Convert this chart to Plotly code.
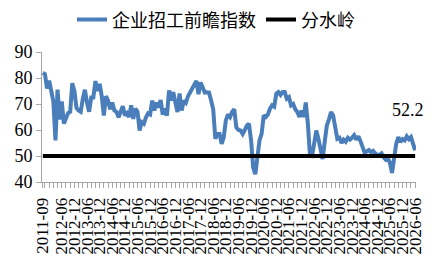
import pandas as pd
import plotly.graph_objects as go

# Monthly categories 2011-09 .. 2026-06
months = [d.strftime("%Y-%m") for d in pd.date_range("2011-09-01", "2026-06-01", freq="MS")]

# 企业招工前瞻指数
index_values = [
    82, 81.5, 76, 79, 75, 71, 56, 75.5, 64, 71,
    62.5, 65, 66.5, 67, 78, 75, 68.5, 67.5, 67, 72,
    75.5, 70.5, 67, 72.5, 72.5, 78.8, 75, 77.8, 73, 65.6,
    73, 71.3, 68, 70.6, 67.5, 67, 64.9, 67, 69.2, 65.6,
    66.5, 65, 69.5, 64.3, 68.2, 67, 59.8, 63, 62.4, 64.8,
    66.4, 66, 71.3, 67.5, 70.6, 68.7, 71.5, 65.9, 68.2, 65.5,
    75.2, 71.3, 74.6, 70.6, 66.9, 74, 67.5, 71.3, 70.5, 73,
    74.4, 76.3, 77, 78.9, 73.8, 78.3, 76.3, 74.4, 74.5, 74.4,
    71.3, 68, 56.6, 58.5, 58.5, 54.7, 57.2, 63.7, 66, 65,
    67, 68, 61, 60, 59.8, 58.5, 60, 61.7, 62.4, 56,
    45.5, 43, 49.5, 56, 58.5, 65.6, 65, 66, 68.2, 69.5,
    69, 74, 74.6, 73.5, 74.6, 74.6, 72, 72.6, 69.5, 70,
    68, 66.9, 65, 67.5, 65, 70.6, 62.4, 50.2, 50, 55.4,
    59.8, 56.6, 53.3, 48.8, 55.4, 61.7, 64, 66.9, 65.6, 61,
    56.6, 57, 55, 56.3, 55.5, 57, 56.3, 57, 58, 56.3,
    57.6, 55.7, 53.7, 51.2, 51.8, 52.3, 51.5, 52, 51, 50.4,
    50.5, 51, 49.5, 48.6, 49.2, 47.4, 43.5, 50.2, 54.7, 57.3,
    55.4, 56.5, 56, 57.6, 56.5, 57.3, 55, 52.2,
]
watershed_value = 50

tick_labels = ["2011-09"] + [f"{y}-{m}" for y in range(2012, 2027) for m in ("06", "12")]
tick_labels = [t for t in tick_labels if t <= "2026-06"]

series_name = "企业招工前瞻指数"
line_name = "分水岭"
last_label = "52.2"

x = list(range(len(months)))
tickvals = [months.index(t) for t in tick_labels]

FONT = "Liberation Serif, 'Times New Roman', 'Noto Sans CJK SC', serif"

fig = go.Figure()
fig.add_trace(go.Scatter(
    x=x, y=index_values, mode="lines", name=series_name,
    line=dict(color="#4A7EBB", width=4),
))
fig.add_trace(go.Scatter(
    x=x, y=[watershed_value] * len(x), mode="lines", name=line_name,
    line=dict(color="#000000", width=4),
))

fig.add_annotation(
    x=x[-1], y=index_values[-1], text=last_label, showarrow=False,
    xanchor="center", yanchor="middle", xshift=-7, yshift=40,
    font=dict(size=18, color="#000000", family=FONT),
)

fig.update_layout(
    width=432, height=268,
    margin=dict(l=42, r=16, t=52, b=86, autoexpand=False),
    paper_bgcolor="white", plot_bgcolor="white",
    font=dict(family=FONT, size=18, color="#000000"),
    showlegend=True,
    legend=dict(
        orientation="h", x=0.5, xanchor="center", xref="container",
        y=0.995, yanchor="top", yref="container",
        font=dict(size=18, family=FONT), itemwidth=30,
        bgcolor="rgba(0,0,0,0)", tracegroupgap=0,
    ),
    xaxis=dict(
        range=[-0.4, len(x) - 0.6],
        tickmode="array", tickvals=tickvals, ticktext=tick_labels,
        tickangle=-90, showgrid=False, zeroline=False,
        showline=True, linecolor="#A6A6A6", linewidth=1,
        ticks="outside", ticklen=5, tickcolor="#A6A6A6",
        minor=dict(ticks="outside", ticklen=5, tickcolor="#A6A6A6", dtick=2, tick0=1),
        tickfont=dict(size=17, family=FONT),
        ticklabelstandoff=3,
        automargin=False,
    ),
    yaxis=dict(
        range=[40, 90], dtick=10, tick0=40, showgrid=False, zeroline=False,
        showline=True, linecolor="#A6A6A6", linewidth=1,
        ticks="outside", ticklen=5, tickcolor="#A6A6A6",
        tickfont=dict(size=18, family=FONT),
        automargin=False,
    ),
)

fig.write_html("out.html")
